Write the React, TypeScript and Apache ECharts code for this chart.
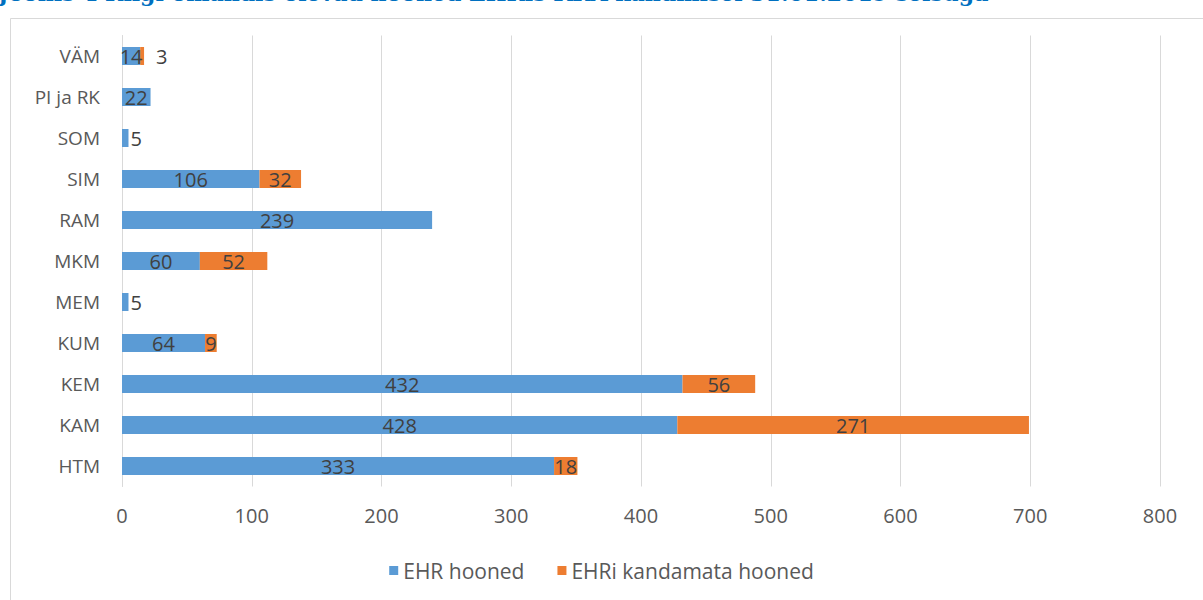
import React, { useEffect, useRef } from "react";
import * as echarts from "echarts";

const titleText = "Joonis 4 Riigi omandis olevad hooned EHRis KRA kandmisel 31.01.2019 seisuga";
const categories = ["HTM", "KAM", "KEM", "KUM", "MEM", "MKM", "RAM", "SIM", "SOM", "PI ja RK", "VÄM"];
const seriesNames = ["EHR hooned", "EHRi kandamata hooned"];
const ehrValues = [333, 428, 432, 64, 5, 60, 239, 106, 5, 22, 14];
const notInEhrValues: (number | null)[] = [18, 271, 56, 9, null, 52, null, 32, null, null, 3];
const xTicks = { min: 0, max: 800, interval: 100 };

const FONT = "'Open Sans', sans-serif";
const FS = 19;

export default function App() {
  const ref = useRef<HTMLDivElement>(null);
  useEffect(() => {
    const chart = echarts.init(ref.current!, null, { renderer: "svg" });
    const blueData = ehrValues.map((v) =>
      v < 10 ? { value: v, label: { position: "right", distance: 2 } } : v
    );
    const orangeData = notInEhrValues.map((v) =>
      v === null
        ? null
        : v < 5
        ? { value: v, label: { position: "right", distance: 2, offset: [10, 0] } }
        : v
    );
    chart.setOption({
      animation: false,
      graphic: [
        {
          type: "rect",
          shape: { x: 10.5, y: 18.5, width: 1300, height: 700 },
          style: { fill: "#fff", stroke: "#d9d9d9", lineWidth: 1 },
          z: -10,
        },
        {
          type: "text",
          x: -2,
          y: -7,
          style: {
            text: titleText,
            font: "bold 22px 'DejaVu Serif'",
            fill: "#0070C0",
            verticalAlign: "middle",
            align: "left",
          },
        },
      ],
      grid: { left: 122, right: 43, top: 35.5, bottom: 113.5, containLabel: false },
      legend: {
        bottom: 14,
        left: "center",
        itemWidth: 9,
        itemHeight: 9,
        itemGap: 33,
        icon: "rect",
        textStyle: { color: "#595959", fontSize: 21, fontFamily: FONT },
        data: seriesNames,
      },
      xAxis: {
        type: "value",
        min: xTicks.min,
        max: xTicks.max,
        interval: xTicks.interval,
        axisLine: { show: false },
        axisTick: { show: false },
        splitLine: { lineStyle: { color: "#d9d9d9" } },
        axisLabel: { color: "#595959", fontSize: 20, fontFamily: FONT, margin: 19 },
      },
      yAxis: {
        type: "category",
        data: categories,
        axisLine: { show: true, lineStyle: { color: "#d9d9d9" } },
        axisTick: { show: false },
        axisLabel: { color: "#595959", fontSize: FS, fontFamily: FONT, margin: 22 },
      },
      series: [
        {
          name: seriesNames[0],
          type: "bar",
          stack: "total",
          barWidth: 18,
          itemStyle: { color: "#5B9BD5" },
          label: {
            show: true,
            position: "inside",
            color: "#404040",
            fontSize: 20,
            fontFamily: FONT,
          },
          data: blueData,
        },
        {
          name: seriesNames[1],
          type: "bar",
          stack: "total",
          barWidth: 18,
          itemStyle: { color: "#ED7D31" },
          label: {
            show: true,
            position: "inside",
            color: "#404040",
            fontSize: 20,
            fontFamily: FONT,
          },
          data: orangeData,
        },
      ],
    });
    return () => chart.dispose();
  }, []);
  return (
    <div
      ref={ref}
      style={{ position: "absolute", left: 0, top: 0, width: 1203, height: 600, background: "#fff" }}
    />
  );
}
